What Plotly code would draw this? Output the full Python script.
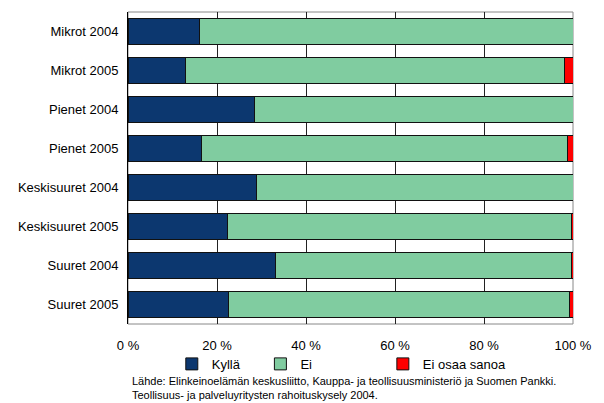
import plotly.graph_objects as go

# Survey response shares (%) by firm size and year
categories = ["Mikrot 2004", "Mikrot 2005", "Pienet 2004", "Pienet 2005",
              "Keskisuuret 2004", "Keskisuuret 2005", "Suuret 2004", "Suuret 2005"]
kylla = [16.1, 12.9, 28.4, 16.6, 28.9, 22.3, 33.2, 22.6]
ei = [83.9, 85.1, 71.6, 82.1, 71.1, 77.4, 66.5, 76.5]
ei_osaa_sanoa = [0.0, 2.0, 0.0, 1.3, 0.0, 0.3, 0.3, 0.9]
tick_values = [0, 20, 40, 60, 80, 100]
tick_labels = ["0 %", "20 %", "40 %", "60 %", "80 %", "100 %"]

series = [
    ("Kyllä", kylla, "#0c376f", "legend"),
    ("Ei", ei, "#80cca0", "legend2"),
    ("Ei osaa sanoa", ei_osaa_sanoa, "#ff0000", "legend3"),
]

FONT = "Liberation Sans, Arial, sans-serif"

fig = go.Figure()
for name, vals, color, leg in series:
    fig.add_trace(go.Bar(
        y=categories, x=vals, name=name, orientation="h",
        marker=dict(color=color, line=dict(color="#111111", width=1)),
        legend=leg, hoverinfo="skip",
    ))

legend_common = dict(orientation="h", yanchor="middle", xanchor="left",
                     font=dict(family=FONT, size=13, color="#000"),
                     bgcolor="rgba(0,0,0,0)", itemwidth=30,
                     tracegroupgap=0)

fig.update_layout(
    width=604, height=403,
    margin=dict(l=128, r=29, t=12, b=79),
    paper_bgcolor="white", plot_bgcolor="white",
    barmode="stack", bargap=0.33,
    font=dict(family=FONT, size=13, color="#000"),
    xaxis=dict(range=[0, 100], tickvals=tick_values, ticktext=tick_labels,
               showgrid=True, gridcolor="#222222", gridwidth=1,
               zeroline=False, showline=False, ticks="", ticklabelstandoff=12,
               fixedrange=True),
    yaxis=dict(autorange="reversed", showline=True, linecolor="#000",
               linewidth=1, ticks="", ticklabelstandoff=6, showgrid=False,
               fixedrange=True),
    legend=dict(x=(172 - 128) / 447, y=-0.128, **legend_common),
    legend2=dict(x=(261 - 128) / 447, y=-0.128, **legend_common),
    legend3=dict(x=(384 - 128) / 447, y=-0.128, **legend_common),
    showlegend=True,
)

# Plot-area frame
fig.add_shape(type="rect", xref="paper", yref="paper", x0=0, x1=1, y0=0, y1=1,
              line=dict(color="#888888", width=1), layer="below")

fig.add_annotation(
    text="Lähde: Elinkeinoelämän keskusliitto, Kauppa- ja teollisuusministeriö ja Suomen Pankki.<br>"
         "Teollisuus- ja palveluyritysten rahoituskysely 2004.",
    xref="paper", yref="paper", x=(130 - 128) / 447, y=(324 - 373) / 312,
    xanchor="left", yanchor="top", align="left", showarrow=False,
    font=dict(family=FONT, size=11, color="#000"),
)

fig.write_html("out.html")
